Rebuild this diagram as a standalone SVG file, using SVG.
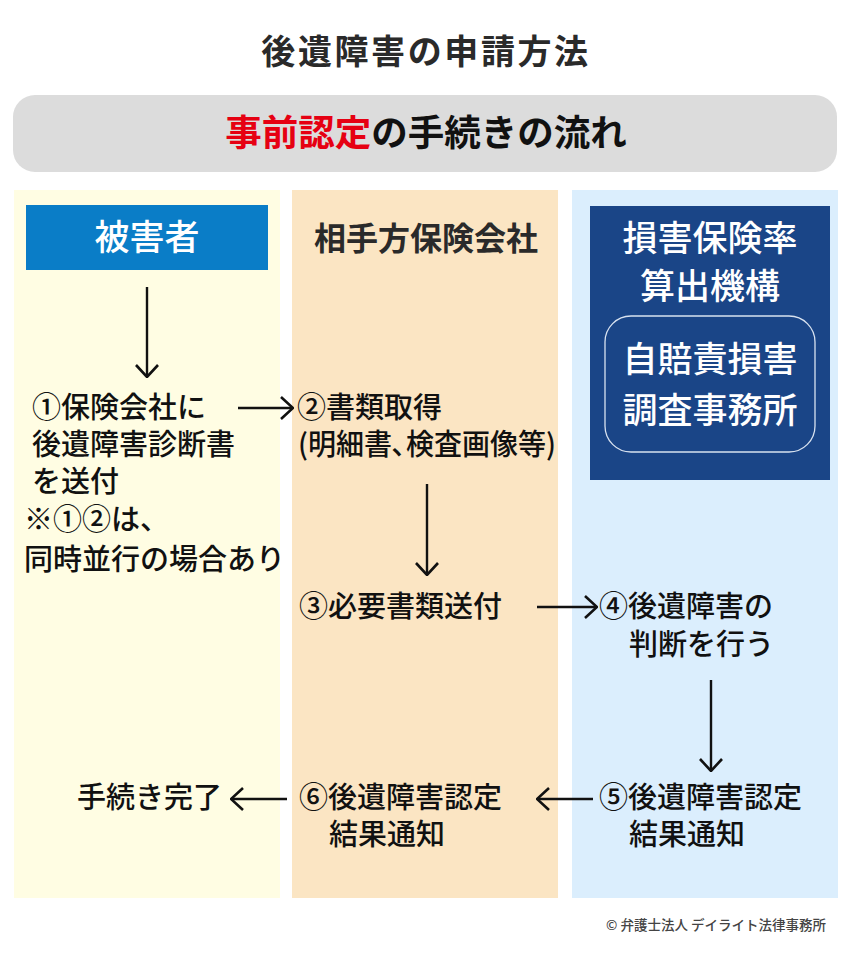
<svg xmlns="http://www.w3.org/2000/svg" width="850" height="953" viewBox="0 0 850 953">
<defs>
<style>
text{font-family:"Noto Sans CJK JP","Noto Sans",sans-serif;}
.t{font-size:29px;font-weight:500;fill:#111;}
.h{font-size:35px;font-weight:500;fill:#fff;}
.ln{stroke:#111;stroke-width:2.4;fill:none;}
</style>
<marker id="ah" viewBox="0 0 14 24" refX="13" refY="12" markerWidth="14" markerHeight="24" markerUnits="userSpaceOnUse" orient="auto">
<path d="M1,1 L13,12 L1,23" fill="none" stroke="#111" stroke-width="2.6"/>
</marker>
</defs>
<rect width="850" height="953" fill="#fff"/>
<text x="426" y="64" text-anchor="middle" style="font-size:34px;font-weight:700;fill:#2a2a2a;letter-spacing:2.6px">後遺障害の申請方法</text>
<rect x="13" y="95" width="824" height="77" rx="22" fill="#dcdcdc"/>
<text x="426" y="146" text-anchor="middle" style="font-size:36.5px;font-weight:700;fill:#111"><tspan fill="#e60012">事前認定</tspan>の手続きの流れ</text>
<g id="col-victim">
<rect x="14" y="190" width="266" height="708" fill="#fffde3"/>
<rect x="26" y="205" width="242" height="65" fill="#0a7dc7"/>
<text x="147" y="250" text-anchor="middle" class="h">被害者</text>
</g>
<g id="col-insurer">
<rect x="292" y="190" width="266" height="708" fill="#fbe5c3"/>
<text x="426" y="250" text-anchor="middle" style="font-size:32px;font-weight:700;fill:#2a2a2a">相手方保険会社</text>
</g>
<g id="col-agency">
<rect x="572" y="190" width="266" height="708" fill="#dbeefd"/>
<rect x="590" y="206" width="240" height="274" fill="#1a4587"/>
<text x="710" y="251" text-anchor="middle" class="h">損害保険率</text>
<text x="710" y="299" text-anchor="middle" class="h">算出機構</text>
<rect x="605" y="316" width="210" height="136" rx="26" fill="none" stroke="#d8e2f0" stroke-width="1.3"/>
<text x="710" y="372" text-anchor="middle" class="h">自賠責損害</text>
<text x="710" y="423" text-anchor="middle" class="h">調査事務所</text>
</g>
<g id="step1">
<text x="32" y="418" class="t">①保険会社に</text>
<text x="32" y="455" class="t">後遺障害診断書</text>
<text x="32" y="492" class="t">を送付</text>
<text x="24" y="530" class="t">※①②は、</text>
<text x="24" y="570" class="t">同時並行の場合あり</text>
</g>
<g id="step2">
<text x="297" y="418" class="t">②書類取得</text>
<text x="298" y="455" class="t" textLength="258" lengthAdjust="spacingAndGlyphs">(明細書､検査画像等)</text>
</g>
<g id="step3">
<text x="299" y="617" class="t">③必要書類送付</text>
</g>
<g id="step4">
<text x="599" y="617" class="t">④後遺障害の</text>
<text x="629" y="655" class="t">判断を行う</text>
</g>
<g id="step5">
<text x="599" y="808" class="t">⑤後遺障害認定</text>
<text x="629" y="845" class="t">結果通知</text>
</g>
<g id="step6">
<text x="299" y="808" class="t">⑥後遺障害認定</text>
<text x="329" y="845" class="t">結果通知</text>
</g>
<g id="done">
<text x="77" y="808" class="t">手続き完了</text>
</g>
<g id="connectors">
<line class="ln" x1="147" y1="287" x2="147" y2="377" marker-end="url(#ah)"/>
<line class="ln" x1="238" y1="408" x2="293" y2="408" marker-end="url(#ah)"/>
<line class="ln" x1="427" y1="484" x2="427" y2="575" marker-end="url(#ah)"/>
<line class="ln" x1="537" y1="607" x2="597" y2="607" marker-end="url(#ah)"/>
<line class="ln" x1="711" y1="680" x2="711" y2="771" marker-end="url(#ah)"/>
<line class="ln" x1="593" y1="799" x2="537" y2="799" marker-end="url(#ah)"/>
<line class="ln" x1="287" y1="799" x2="231" y2="799" marker-end="url(#ah)"/>
</g>
<text x="826" y="930" text-anchor="end" style="font-size:13.5px;font-weight:500;fill:#444">© 弁護士法人 デイライト法律事務所</text>
</svg>
